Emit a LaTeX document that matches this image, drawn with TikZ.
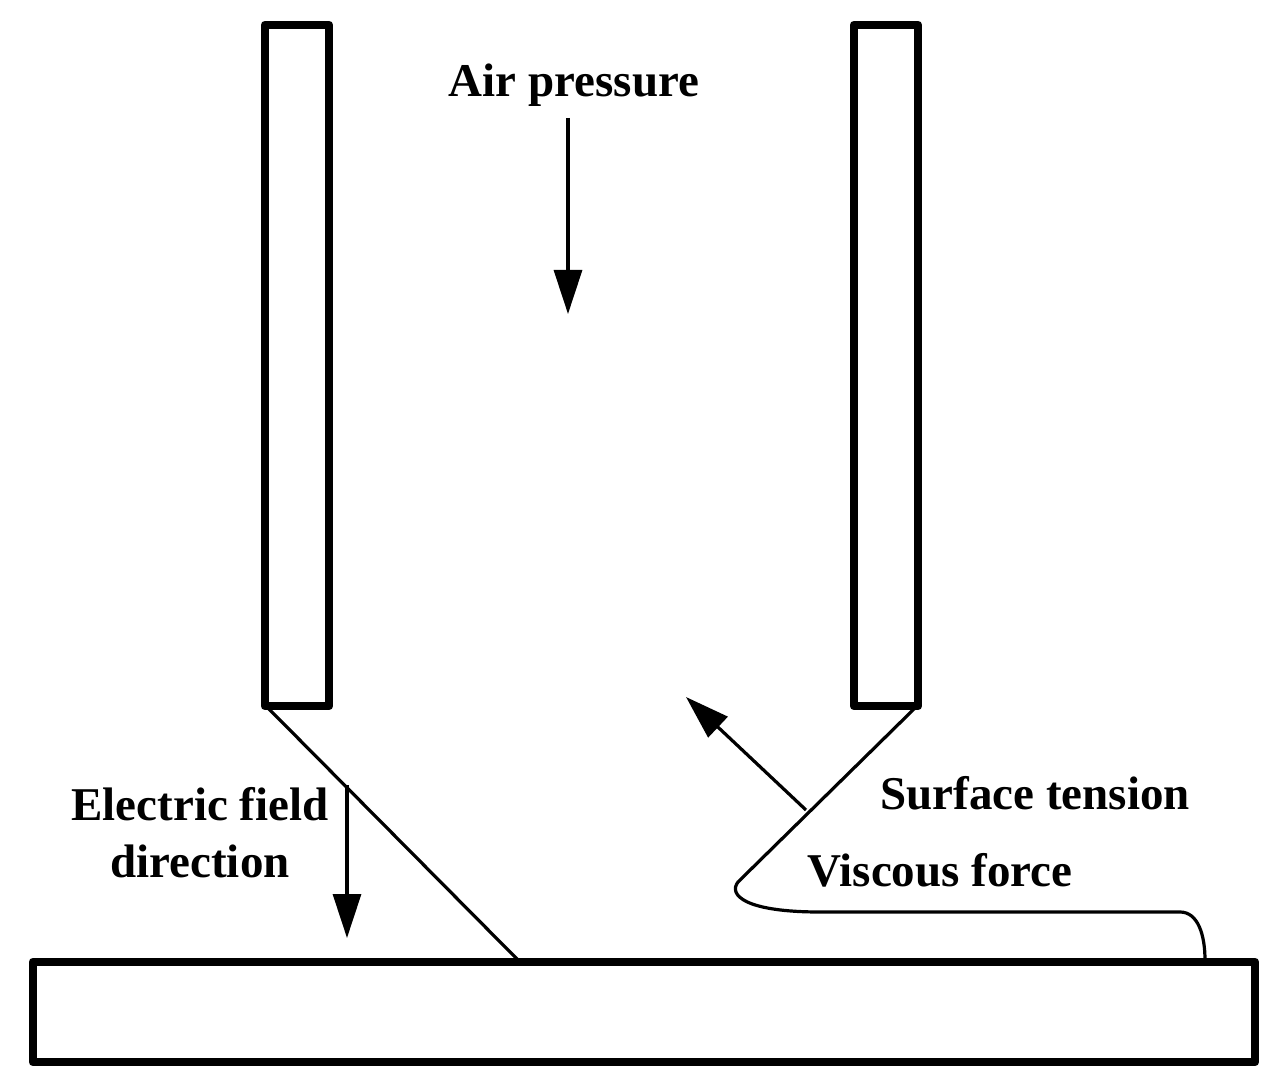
\documentclass[tikz,border=0pt]{standalone}
\usepackage{fontspec}
\setmainfont{Liberation Serif}
\usetikzlibrary{arrows.meta}
\begin{document}
\begin{tikzpicture}[x=0.5pt,y=-0.5pt,
  wall/.style={line width=4.4pt,line join=round},
  thin/.style={line width=1.6pt},
  force/.style={line width=1.6pt,-{Triangle[length=22pt,width=14pt]}},
  lab/.style={font=\bfseries\fontsize{23.5}{28.5}\selectfont,inner sep=0pt,align=center}]
\useasboundingbox (0,0) rectangle (1276,1091);
\draw[wall] (265,25) rectangle (329,706);
\draw[wall] (854,25) rectangle (918,706);
\draw[wall] (33,962) rectangle (1255,1062);
\coordinate (lt) at (268,708); \coordinate (lb) at (518,960);
\draw[thin] (lt) -- (lb);
\coordinate (rt) at (915,708); \coordinate (rk) at (738,882);
\coordinate (rf) at (1180,912); \coordinate (re) at (1205,960);
\draw[thin] (rt) -- (rk) .. controls (728,895) and (745,912) .. (820,912) -- (rf) .. controls (1198,912) and (1205,935) .. (re);
\node[lab] (ap) at (574,85) {Air pressure};
\coordinate (a1) at (568,118); \coordinate (a2) at (568,314);
\draw[force] (a1) -- (a2);
\coordinate (s1) at (806,810); \coordinate (s2) at (686,697);
\draw[force] (s1) -- (s2);
\coordinate (e1) at (347,785); \coordinate (e2) at (347,938);
\draw[force] (e1) -- (e2);
\node[lab] (ef) at (200,833) {Electric field\\direction};
\node[lab] (st) at (1035,793) {Surface tension};
\node[lab] (vf) at (940,870) {Viscous force};
\end{tikzpicture}
\end{document}
